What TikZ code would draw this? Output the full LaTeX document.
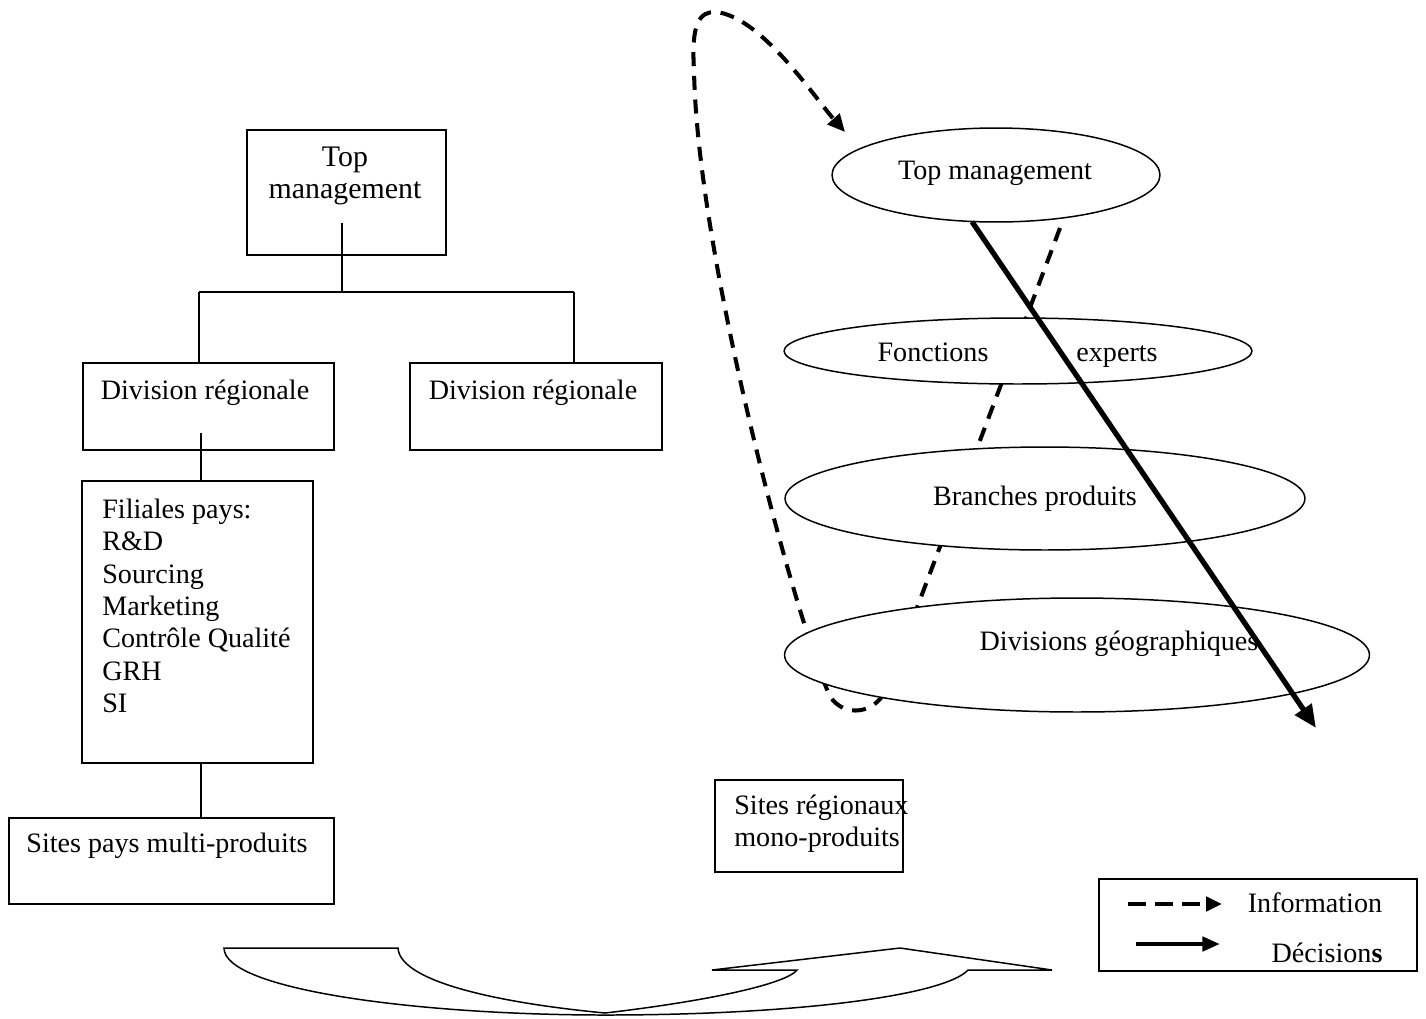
\documentclass[tikz,border=0pt]{standalone}
\usepackage{fontspec}
\setmainfont{Liberation Serif}
\usetikzlibrary{shapes.geometric,arrows.meta,calc}
\begin{document}
\begin{tikzpicture}[x=0.02cm,y=-0.02cm,
  box/.style={draw,line width=0.85pt,rectangle,inner sep=0pt},
  oval/.style={draw,line width=0.85pt,ellipse,inner sep=0pt,fill=white},
  lbl/.style={inner sep=0pt,font=\fontsize{16}{18.4}\selectfont},
  tie/.style={line width=0.75pt},
  info/.style={line width=2.3pt,dash pattern=on 8pt off 5.5pt,-{Triangle[length=10pt,width=9pt]}},
  decide/.style={line width=3pt,-{Triangle[length=13pt,width=11pt]}},
  keyinfo/.style={line width=2.6pt,dash pattern=on 10pt off 5.5pt,-{Triangle[length=9pt,width=8pt]}},
  keydecide/.style={line width=2.4pt,-{Triangle[length=10pt,width=8pt]}},
]
\useasboundingbox (0,0) rectangle (1426,1018);

% ---- Organisation chart (left) ----
\node[box,minimum width=3.98cm,minimum height=2.5cm] (tm) at (346.5,192.5) {};
\node[lbl,align=center,font=\fontsize{17}{18.7}\selectfont] (tmtext) at (345,176) {Top\\management};
\node[box,minimum width=5.02cm,minimum height=1.74cm] (dl) at (208.5,406.5) {};
\node[lbl] (dltext) at (205,393) {Division régionale};
\node[box,minimum width=5.04cm,minimum height=1.74cm] (dr) at (536,406.5) {};
\node[lbl] (drtext) at (533,393) {Division régionale};
\node[box,minimum width=4.62cm,minimum height=5.64cm] (fil) at (197.5,622) {};
\node[lbl,align=left,anchor=west] (filtext) at (102,606)
  {Filiales pays:\\R\&D\\Sourcing\\Marketing\\Contrôle Qualité\\GRH\\SI};
\node[box,minimum width=6.5cm,minimum height=1.72cm] (spm) at (171.5,861) {};
\node[lbl] (spmtext) at (167,846) {Sites pays multi-produits};

\coordinate (j0) at (342,292);
\coordinate (jl) at (199,292);
\coordinate (jr) at (574,292);
\draw[tie] ($(tm.south -| j0)+(0,-33)$) -- (j0);
\draw[tie] (jl) -- (jr);
\draw[tie] (jl) -- (jl |- dl.north);
\draw[tie] (jr) -- (jr |- dr.north);
\coordinate (k1) at (201,433);
\draw[tie] (k1) -- (k1 |- fil.north);
\coordinate (k2) at (201,763);
\draw[tie] (k2) -- (k2 |- spm.north);

% ---- Regional single-product sites ----
\node[box,minimum width=3.76cm,minimum height=1.84cm] (srm) at (809,826) {};
\node[lbl,align=left,anchor=west] (srmtext) at (734,824) {Sites régionaux\\mono-produits};

% ---- Information loop (drawn below the levels) ----
\coordinate (i0) at (1060,228);
\coordinate (i1) at (886,690);
\coordinate (i2) at (828,692);
\coordinate (i3) at (694,70);
\coordinate (i4) at (715,12);
\draw[info] (i0) -- (i1) .. controls (872,718) and (838,716) .. (i2)
  .. controls (790,600) and (697,250) .. (i3)
  .. controls (691,22) and (700,12) .. (i4)
  .. controls (760,15) and (815,98) .. (845,132);

% ---- Hierarchy levels ----
\node[oval,minimum width=6.56cm,minimum height=1.88cm] (etm) at (996,175) {};
\node[lbl] (etmtext) at (995,173) {Top management};
\node[oval,minimum width=9.36cm,minimum height=1.32cm] (efe) at (1018,351) {};
\node[lbl,anchor=base] (efea) at (933,361) {Fonctions};
\node[lbl,anchor=base] (efeb) at (1117,361) {experts};
\node[oval,minimum width=10.4cm,minimum height=2.06cm] (ebp) at (1045,498.5) {};
\node[lbl] (ebptext) at (1035,499) {Branches produits};
\node[oval,minimum width=11.7cm,minimum height=2.28cm] (edg) at (1077,655) {};
\node[lbl] (edgtext) at (1119,644) {Divisions géographiques};

% ---- Decision flow ----
\coordinate (dEnd) at (1316,728);
\draw[decide] ($(etm.south)+(-24,-1)$) -- (dEnd);

% ---- Transition arrow ----
\draw[line width=0.85pt,line join=miter]
  (224,948) -- (398,948)
  .. controls (400,982) and (500,1003) .. (605,1013)
  .. controls (700,1002) and (785,985) .. (797,970)
  -- (712,970) -- (900,948) -- (1052,970) -- (968,970)
  .. controls (945,995) and (800,1015) .. (605,1015)
  .. controls (420,1015) and (224,990) .. (224,948) -- cycle;

% ---- Legend ----
\node[box,minimum width=6.36cm,minimum height=1.84cm] (leg) at (1258,925) {};
\coordinate (la0) at (1128,904);
\coordinate (la1) at (1222,904);
\coordinate (lb0) at (1136,944);
\coordinate (lb1) at (1220,944);
\draw[keyinfo] (la0) -- (la1);
\draw[keydecide] (lb0) -- (lb1);
\node[lbl] (legi) at (1315,903) {Information};
\node[lbl] (legd) at (1327,953) {Décision\textbf{s}};
\end{tikzpicture}
\end{document}
